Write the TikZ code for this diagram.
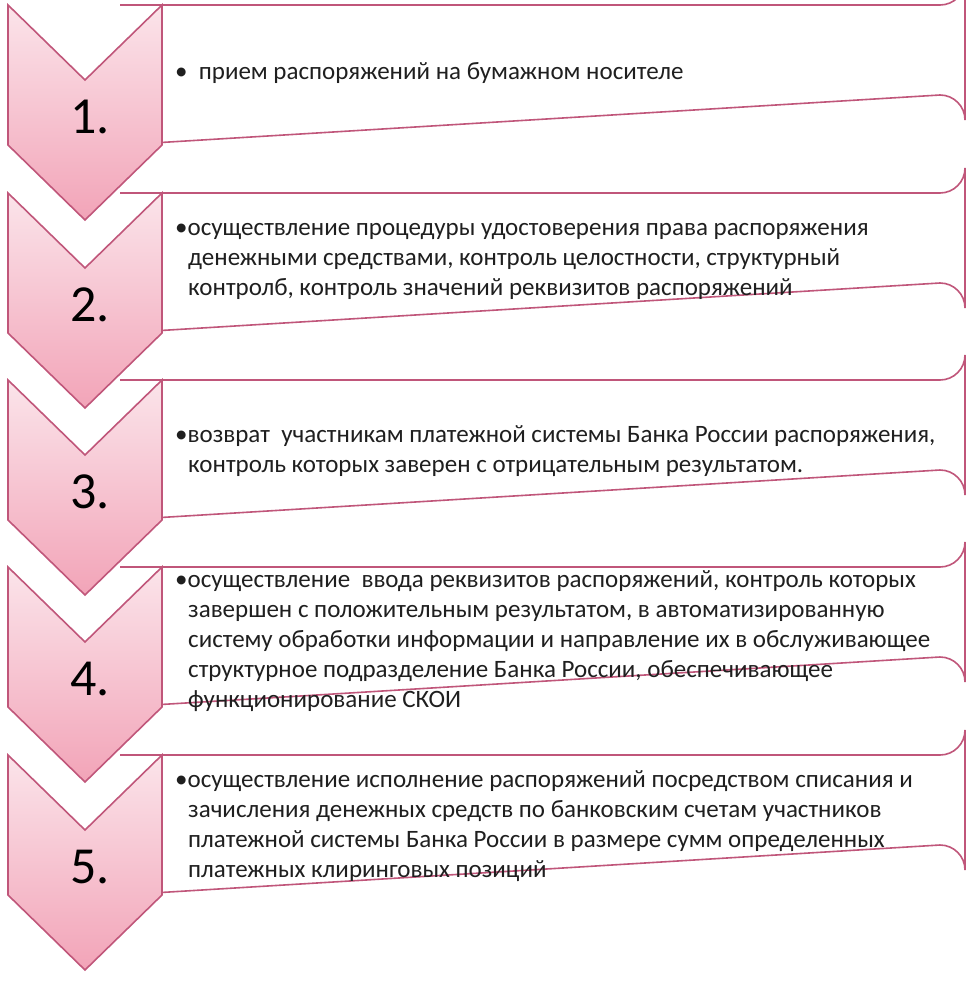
\documentclass[tikz,border=0pt]{standalone}
\usepackage{fontspec}
\setmainfont{Carlito}
\begin{document}
\begin{tikzpicture}[x=1pt,y=-1pt,
  chev/.style={draw=chevb,line width=1.6pt,top color=chevt,bottom color=chevbot,line join=miter},
  boxr/.style={draw=chevb,line width=1.6pt,fill=white},
  num/.style={font=\fontsize{52}{52}\selectfont,text=black},
  txt/.style={anchor=north west,align=left,inner sep=0pt,text=black!88,font=\fontsize{25}{30}\selectfont}]
\definecolor{chevb}{HTML}{C0567A}
\definecolor{chevt}{HTML}{FBE4EA}
\definecolor{chevbot}{HTML}{F2A4B8}
\useasboundingbox (0,0) rectangle (968,988);
\foreach \t/\n in {5/1,193/2,380/3,567/4,755/5}{
  \draw[boxr] (120,\t) -- (940,\t) arc[start angle=90,end angle=0,radius=25] -- (965,\t+115) arc[start angle=0,end angle=-90,radius=25] -- (120,\t+140);
  \draw[chev] (8,\t) -- (85,\t+75) -- (162,\t) -- (162,\t+140) -- (85,\t+215) -- (8,\t+140) -- cycle;
  \node[num] (n\n) at (90,\t+112) {\n.};
}
\node[txt] (t1) at (175,62) {•\ \ прием распоряжений на бумажном носителе};
\node[txt] (t2) at (175,223) {•осуществление процедуры удостоверения права распоряжения\\\hspace*{13pt}денежными средствами, контроль целостности, структурный\\\hspace*{13pt}контролб, контроль значений реквизитов распоряжений};
\node[txt] (t3) at (175,425) {•возврат\ \ участникам платежной системы Банка России распоряжения,\\\hspace*{13pt}контроль которых заверен с отрицательным результатом.};
\node[txt] (t4) at (175,570) {•осуществление\ \ ввода реквизитов распоряжений, контроль которых\\\hspace*{13pt}завершен с положительным результатом, в автоматизированную\\\hspace*{13pt}систему обработки информации и направление их в обслуживающее\\\hspace*{13pt}структурное подразделение Банка России, обеспечивающее\\\hspace*{13pt}функционирование СКОИ};
\node[txt] (t5) at (175,770) {•осуществление исполнение распоряжений посредством списания и\\\hspace*{13pt}зачисления денежных средств по банковским счетам участников\\\hspace*{13pt}платежной системы Банка России в размере сумм определенных\\\hspace*{13pt}платежных клиринговых позиций};
\end{tikzpicture}
\end{document}
